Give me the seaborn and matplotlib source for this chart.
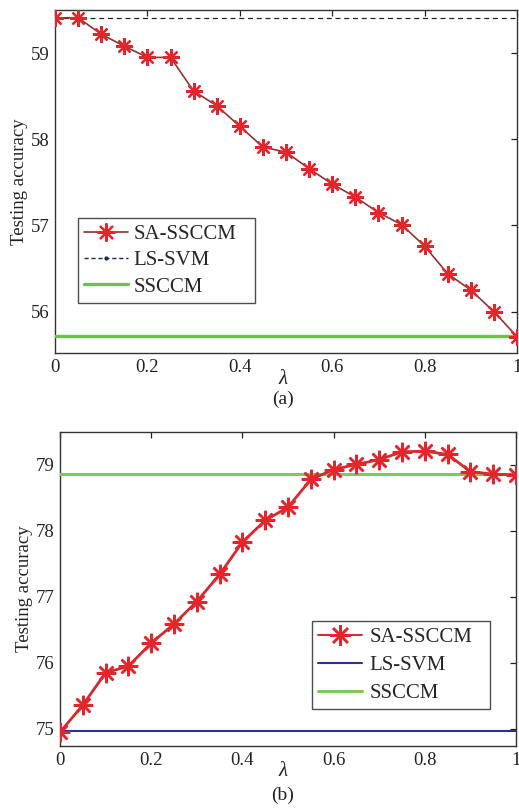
import numpy as np
import pandas as pd
import matplotlib
matplotlib.use("Agg")
import matplotlib.pyplot as plt
import seaborn as sns
from matplotlib.lines import Line2D

# ---------------- data ----------------
lam = [0.0, 0.05, 0.10, 0.15, 0.20, 0.25, 0.30, 0.35, 0.40, 0.45, 0.50,
       0.55, 0.60, 0.65, 0.70, 0.75, 0.80, 0.85, 0.90, 0.95, 1.0]

sa_ssccm_a = [59.41, 59.41, 59.22, 59.08, 58.95, 58.95, 58.56, 58.39, 58.15, 57.91, 57.85,
              57.66, 57.48, 57.33, 57.15, 57.01, 56.76, 56.44, 56.25, 56.00, 55.71]
ls_svm_a = 59.41
ssccm_a = 55.72

sa_ssccm_b = [74.95, 75.36, 75.85, 75.95, 76.30, 76.59, 76.93, 77.34, 77.83, 78.16, 78.36,
              78.78, 78.93, 79.01, 79.08, 79.20, 79.21, 79.16, 78.90, 78.86, 78.85]
ls_svm_b = 74.96
ssccm_b = 78.87

xticks = [0, 0.2, 0.4, 0.6, 0.8, 1]
xticklabels = ["0", "0.2", "0.4", "0.6", "0.8", "1"]
yticks_a = [56, 57, 58, 59]
yticks_b = [75, 76, 77, 78, 79]
series_names = ["SA-SSCCM", "LS-SVM", "SSCCM"]
ylabel = "Testing accuracy"
xlabel = "λ"
panel_labels = ["(a)", "(b)"]

# ---------------- style ----------------
sns.set_theme(style="white")
plt.rcParams['font.family'] = ['Liberation Serif', 'DejaVu Serif']
plt.rcParams['mathtext.fontset'] = 'stix'

W, H = 519, 808
fig = plt.figure(figsize=(W / 100, H / 100), dpi=100)

def px_axes(l, t, r, b):
    return fig.add_axes([l / W, 1 - b / H, (r - l) / W, (b - t) / H])

ax1 = px_axes(55, 10, 517, 353)
ax2 = px_axes(60, 432, 516, 746)

star = (8, 2, 0)
red = "#E4262C"

def style_axes(ax, ylim, yticks):
    ax.set_xlim(0, 1)
    ax.set_ylim(*ylim)
    ax.set_xticks(xticks)
    ax.set_xticklabels(xticklabels)
    ax.set_yticks(yticks)
    ax.set_yticklabels([str(v) for v in yticks])
    ax.tick_params(direction='in', length=4, width=0.9, top=True, right=True,
                   labelsize=13.5, pad=4, colors='#222222')
    for s in ax.spines.values():
        s.set_color('#333333')
        s.set_linewidth(1.0)
    ax.set_xlabel("")
    ax.set_ylabel(ylabel, fontsize=13.5, labelpad=2, color='#222222')
    ax.grid(False)

# ---------- panel (a) ----------
df_a = pd.DataFrame({"lam": lam, "acc": sa_ssccm_a})
sns.lineplot(data=df_a, x="lam", y="acc", ax=ax1, color="#8E3434", lw=1.2,
             marker=star, markersize=12, markeredgewidth=1.6,
             markeredgecolor=red, markerfacecolor=red, zorder=4)
ax1.axhline(ls_svm_a, color="#222222", lw=0.9, ls=(0, (4, 3)), zorder=3)
ax1.axhline(ssccm_a, color="#6DC24B", lw=2.4, zorder=3)
style_axes(ax1, (55.52, 59.5), yticks_a)

h_a = [Line2D([], [], color="#8E3434", lw=1.2, marker=star, markersize=13,
              markeredgewidth=1.6, markeredgecolor=red),
       Line2D([], [], color="#1F2060", lw=1.0, ls=(0, (3, 2)), marker='.', markersize=4),
       Line2D([], [], color="#6DC24B", lw=2.4)]
leg = ax1.legend(h_a, series_names, loc='lower left',
                 bbox_to_anchor=(0.0498, 0.1458, 0.383, 0.248), mode='expand',
                 borderaxespad=0, fontsize=15, frameon=True, fancybox=False,
                 edgecolor='#222222', handlelength=2.1, handletextpad=0.25,
                 labelspacing=0.32, borderpad=0.3)
leg.get_frame().set_linewidth(1.0)

# ---------- panel (b) ----------
df_b = pd.DataFrame({"lam": lam, "acc": sa_ssccm_b})
sns.lineplot(data=df_b, x="lam", y="acc", ax=ax2, color="#D22A2E", lw=2.0,
             marker=star, markersize=14, markeredgewidth=1.8,
             markeredgecolor=red, markerfacecolor=red, zorder=4)
ax2.axhline(ls_svm_b, color="#2E3192", lw=1.5, zorder=3)
ax2.axhline(ssccm_b, color="#7DC95A", lw=2.2, zorder=3)
style_axes(ax2, (74.74, 79.5), yticks_b)

h_b = [Line2D([], [], color="#D22A2E", lw=1.4, marker=star, markersize=15,
              markeredgewidth=1.8, markeredgecolor=red),
       Line2D([], [], color="#2E3192", lw=1.5),
       Line2D([], [], color="#7DC95A", lw=2.2)]
leg2 = ax2.legend(h_b, series_names, loc='lower left',
                  bbox_to_anchor=(0.5526, 0.117, 0.39, 0.28), mode='expand',
                  borderaxespad=0, fontsize=15, frameon=True, fancybox=False,
                  edgecolor='#222222', handlelength=2.1, handletextpad=0.35,
                  labelspacing=0.4, borderpad=0.3)
leg2.get_frame().set_linewidth(1.0)

# axis symbols and panel labels
fig.text(283 / W, 1 - 379 / H, xlabel, fontsize=15, style='italic', ha='center', va='center',
         color='#222222')
fig.text(283 / W, 1 - 399 / H, panel_labels[0], fontsize=14, ha='center', va='center',
         color='#222222')
fig.text(283 / W, 1 - 772 / H, xlabel, fontsize=15, style='italic', ha='center', va='center',
         color='#222222')
fig.text(283 / W, 1 - 795 / H, panel_labels[1], fontsize=14, ha='center', va='center',
         color='#222222')

fig.savefig("out.png", dpi=100)
